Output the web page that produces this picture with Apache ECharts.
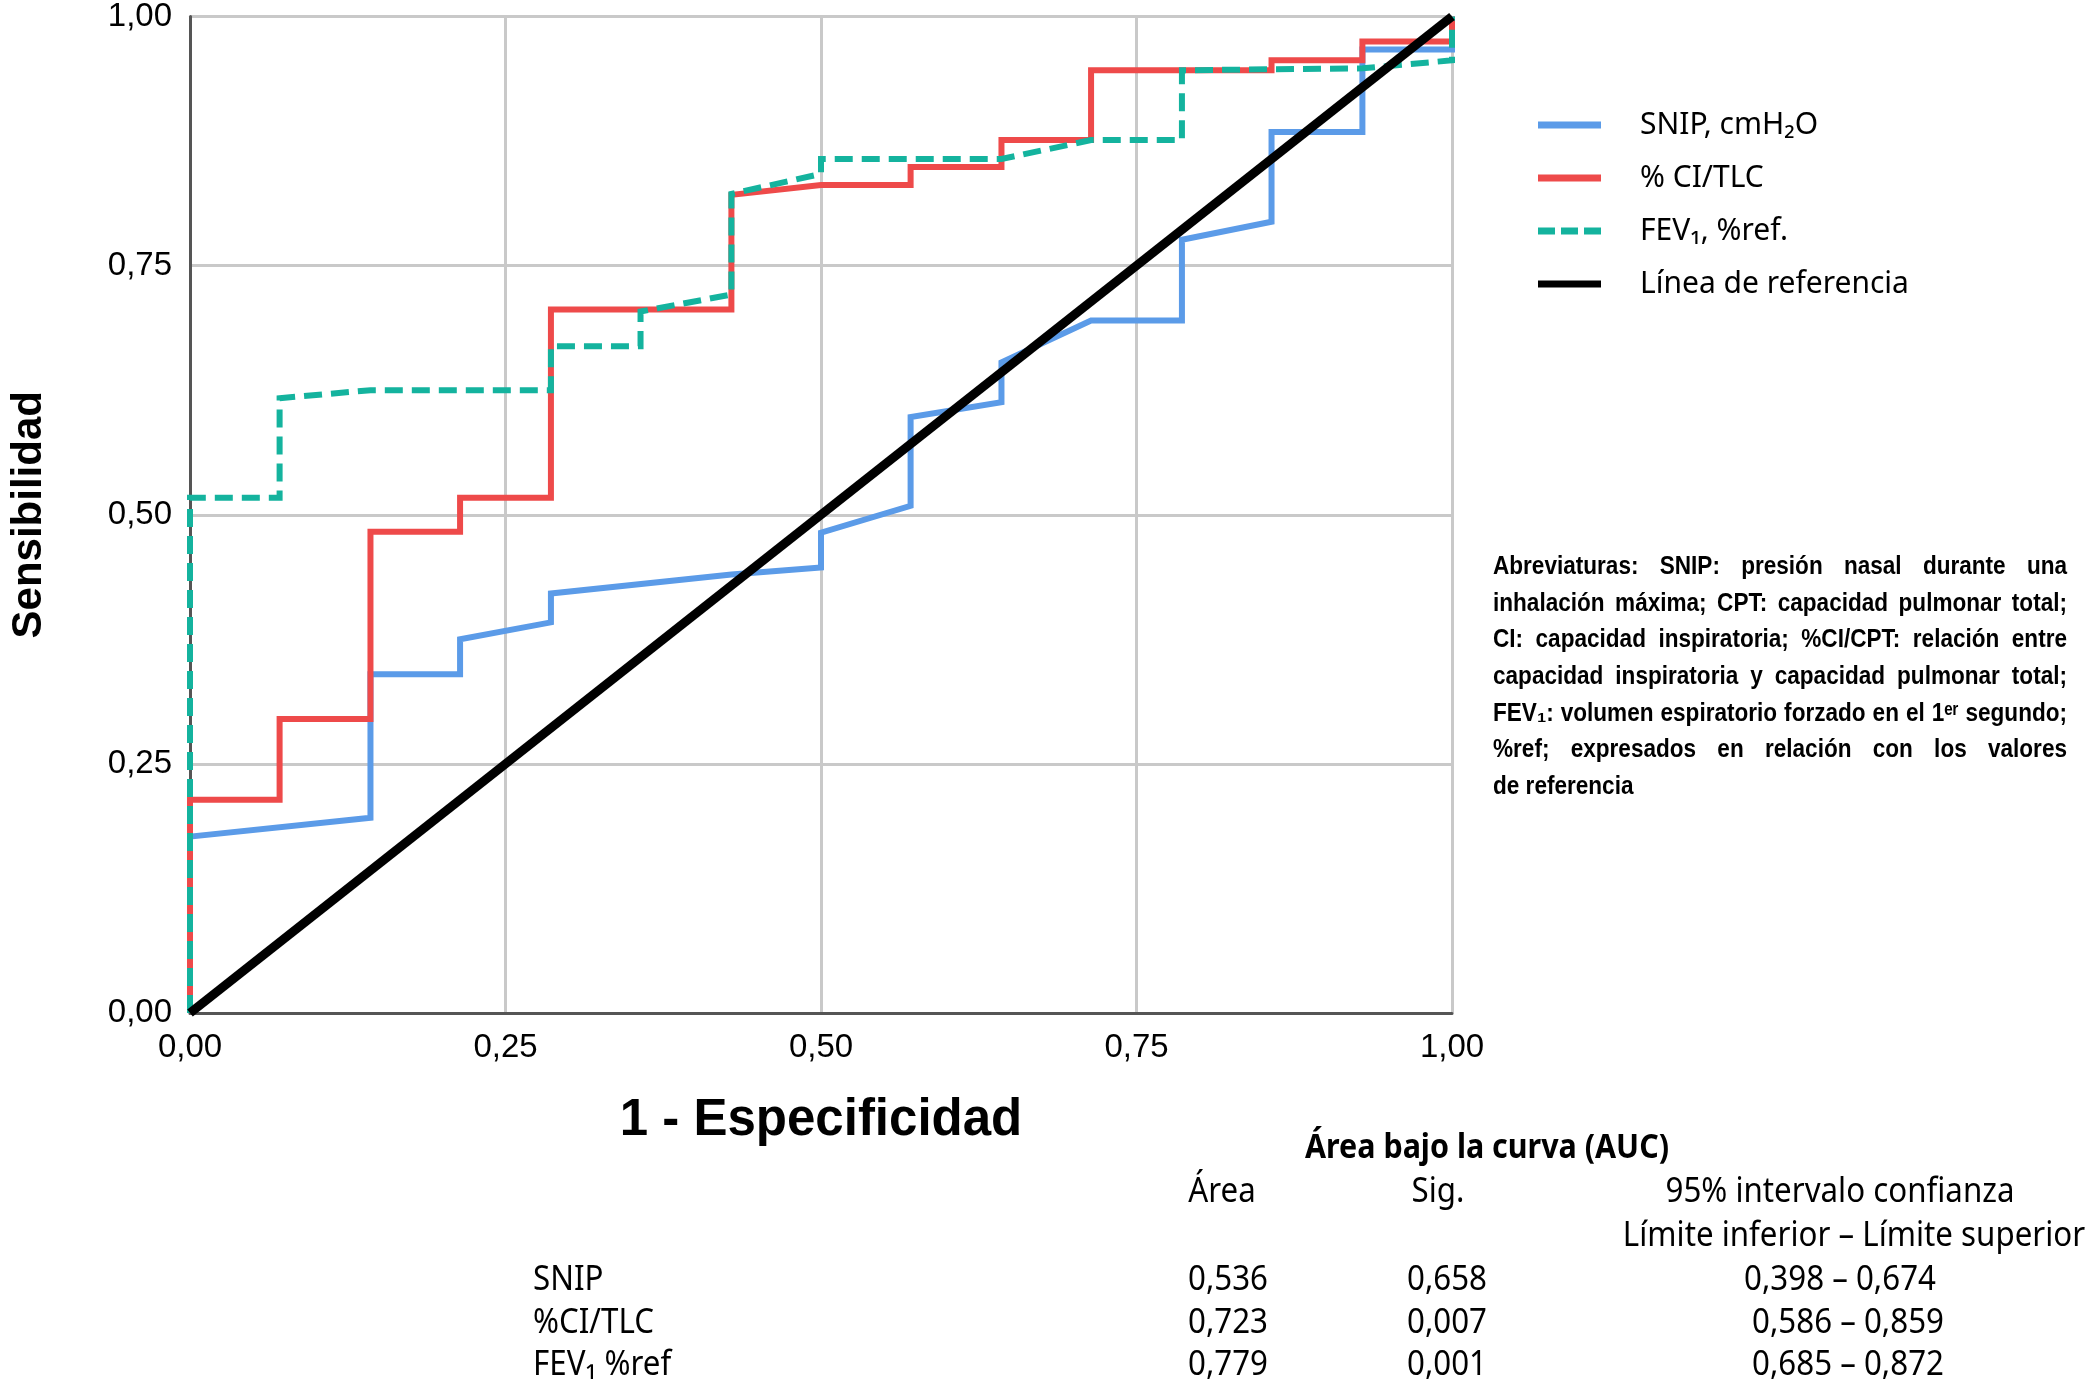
<!DOCTYPE html>
<html><head><meta charset="utf-8">
<script src="https://cdn.jsdelivr.net/npm/echarts@6/dist/echarts.min.js"></script>
<style>html,body{margin:0;padding:0;background:#fff}#c{width:2091px;height:1391px}</style>
</head><body><div id="c"></div>
<script>
// ---- data ----
const tickLabels = ['0,00', '0,25', '0,50', '0,75', '1,00'];
const seriesNames = ['SNIP, cmH₂O', '% CI/TLC', 'FEV₁, %ref.', 'Línea de referencia'];
const snipPoints = [[0,0],[0,0.177],[0.143,0.196],[0.143,0.340],[0.214,0.340],[0.214,0.375],[0.286,0.392],[0.286,0.421],[0.429,0.440],[0.5,0.447],[0.5,0.482],[0.571,0.509],[0.571,0.598],[0.643,0.613],[0.643,0.653],[0.714,0.695],[0.786,0.695],[0.786,0.776],[0.857,0.794],[0.857,0.884],[0.929,0.884],[0.929,0.967],[1,0.967],[1,1]];
const ciTlcPoints = [[0,0],[0,0.214],[0.071,0.214],[0.071,0.295],[0.143,0.295],[0.143,0.483],[0.214,0.483],[0.214,0.517],[0.286,0.517],[0.286,0.706],[0.429,0.706],[0.429,0.821],[0.5,0.831],[0.571,0.831],[0.571,0.849],[0.643,0.849],[0.643,0.876],[0.714,0.876],[0.714,0.946],[0.857,0.946],[0.857,0.956],[0.929,0.956],[0.929,0.975],[1,0.975],[1,1]];
const fevPoints = [[0,0],[0,0.517],[0.071,0.517],[0.071,0.617],[0.143,0.625],[0.286,0.625],[0.286,0.669],[0.357,0.669],[0.357,0.704],[0.429,0.721],[0.429,0.822],[0.5,0.842],[0.5,0.857],[0.643,0.857],[0.714,0.876],[0.786,0.876],[0.786,0.946],[0.929,0.948],[1,0.956],[1,1]];
const refPoints = [[0,0],[1,1]];

const abbrevLines = [
  'Abreviaturas: SNIP: presión nasal durante una',
  'inhalación máxima; CPT: capacidad pulmonar total;',
  'CI: capacidad inspiratoria; %CI/CPT: relación entre',
  'capacidad inspiratoria y capacidad pulmonar total;',
  'FEV₁: volumen espiratorio forzado en el 1ᵉʳ segundo;',
  '%ref; expresados en relación con los valores',
  'de referencia'
];
const tableTitle = 'Área bajo la curva (AUC)';
const tableHeaders = ['Área', 'Sig.', '95% intervalo confianza'];
const tableSubHeader = 'Límite inferior – Límite superior';
const tableRows = ['SNIP', '%CI/TLC', 'FEV₁ %ref'];
const areaValues = ['0,536', '0,723', '0,779'];
const sigValues = ['0,658', '0,007', '0,001'];
const ciValues = ['0,398 – 0,674', '0,586 – 0,859', '0,685 – 0,872'];

// ---- helpers ----
const mctx = document.createElement('canvas').getContext('2d');
function measure(str, font) { mctx.font = font; return mctx.measureText(str).width; }
const ARIAL = '"Liberation Sans", Arial, sans-serif';
const CAL = '"Noto Sans", "Open Sans", sans-serif';

function txt(str, x, y, o) {
  return {
    type: 'text', x: x, y: y, scaleX: o.sx || 1, silent: true,
    style: {
      text: str, fill: '#000', font: o.font,
      align: o.align || 'left', verticalAlign: 'middle'
    }
  };
}

const graphics = [];

// Abbreviations block, justified
(function () {
  const font = 'bold 26px ' + ARIAL;
  const L = 1493, R = 2067, W = R - L;
  const minGap = 7;
  let sx = 1;
  abbrevLines.slice(0, -1).forEach(function (line) {
    const words = line.split(' ');
    const tw = words.reduce(function (s, w) { return s + measure(w, font); }, 0);
    sx = Math.min(sx, (W - minGap * (words.length - 1)) / tw);
  });
  const y0 = 567, dy = 36.6;
  abbrevLines.forEach(function (line, i) {
    const y = y0 + i * dy;
    const words = line.split(' ');
    if (i === abbrevLines.length - 1) {
      graphics.push(txt(line, L, y, { font: font, sx: sx }));
      return;
    }
    const widths = words.map(function (w) { return measure(w, font) * sx; });
    const tw = widths.reduce(function (a, b) { return a + b; }, 0);
    const gap = (W - tw) / (words.length - 1);
    let x = L;
    words.forEach(function (w, k) {
      graphics.push(txt(w, x, y, { font: font, sx: sx }));
      x += widths[k] + gap;
    });
  });
})();

// AUC table
(function () {
  const font = 'normal 34px ' + CAL;
  const bfont = 'bold 34px ' + CAL;
  const sx = 349 / measure(tableHeaders[2], font);
  const sxb = 364 / measure(tableTitle, bfont);
  graphics.push(txt(tableTitle, 1487, 1148, { font: bfont, sx: sxb, align: 'center' }));
  const colX = [1222, 1438, 1840];
  tableHeaders.forEach(function (h, i) {
    graphics.push(txt(h, colX[i], 1192, { font: font, sx: sx, align: 'center' }));
  });
  graphics.push(txt(tableSubHeader, 1854, 1236, { font: font, sx: sx, align: 'center' }));
  const rowY = [1280, 1323, 1365];
  const valX = [1228, 1447];
  const ciX = [1840, 1848, 1848];
  tableRows.forEach(function (r, i) {
    graphics.push(txt(r, 533, rowY[i], { font: font, sx: sx }));
    graphics.push(txt(areaValues[i], valX[0], rowY[i], { font: font, sx: sx, align: 'center' }));
    graphics.push(txt(sigValues[i], valX[1], rowY[i], { font: font, sx: sx, align: 'center' }));
    graphics.push(txt(ciValues[i], ciX[i], rowY[i], { font: font, sx: sx, align: 'center' }));
  });
})();

const chart = echarts.init(document.getElementById('c'), null, { renderer: 'canvas' });

const tickFmt = function (v) { return tickLabels[Math.round(v / 0.25)]; };
const axisCommon = {
  type: 'value', min: 0, max: 1, interval: 0.25,
  axisLine: { show: true, onZero: false, lineStyle: { color: '#555', width: 3 } },
  axisTick: { show: false },
  splitLine: { show: true, lineStyle: { color: '#c9c9c9', width: 3 } },
  axisLabel: { formatter: tickFmt, color: '#000', fontSize: 33, fontFamily: ARIAL, margin: 18 }
};

function lineSeries(name, data, color, width, dash) {
  return {
    name: name, type: 'line', data: data, symbol: 'none', showSymbol: false,
    clip: false, animation: false,
    lineStyle: { color: color, width: width, type: dash || 'solid', cap: 'butt', join: 'miter' },
    itemStyle: { color: color },
    emphasis: { disabled: true }
  };
}

const solidIcon = 'path://M0,0H63V7H0Z';
const dashIcon = 'path://M0,0H17V7H0Z M23,0H40V7H23Z M46,0H63V7H46Z';

chart.setOption({
  backgroundColor: '#fff',
  animation: false,
  grid: { left: 188, right: 639, top: 13, bottom: 378, containLabel: false },
  xAxis: Object.assign({}, axisCommon, {
    name: '1 - Especificidad', nameLocation: 'middle', nameGap: 82,
    nameTextStyle: { fontSize: 51, fontWeight: 'bold', fontFamily: ARIAL, color: '#000' }
  }),
  yAxis: Object.assign({}, axisCommon, {
    name: 'Sensibilidad', nameLocation: 'middle', nameGap: 140,
    nameTextStyle: { fontSize: 42, fontWeight: 'bold', fontFamily: ARIAL, color: '#000' }
  }),
  legend: {
    orient: 'vertical', left: 1533, top: 104,
    itemWidth: 63, itemHeight: 7, itemGap: 21,
    data: [
      { name: seriesNames[0], icon: solidIcon },
      { name: seriesNames[1], icon: solidIcon },
      { name: seriesNames[2], icon: dashIcon },
      { name: seriesNames[3], icon: solidIcon }
    ],
    textStyle: { fontSize: 30, fontFamily: CAL, color: '#000', lineHeight: 32, padding: [0, 0, 0, 34] },
    selectedMode: false
  },
  series: [
    lineSeries(seriesNames[0], snipPoints, '#5b9be8', 6),
    lineSeries(seriesNames[1], ciTlcPoints, '#ee4a4a', 6),
    lineSeries(seriesNames[2], fevPoints, '#14b39e', 6, [18, 9]),
    lineSeries(seriesNames[3], refPoints, '#000000', 9)
  ],
  graphic: graphics
});
</script>
</body></html>
